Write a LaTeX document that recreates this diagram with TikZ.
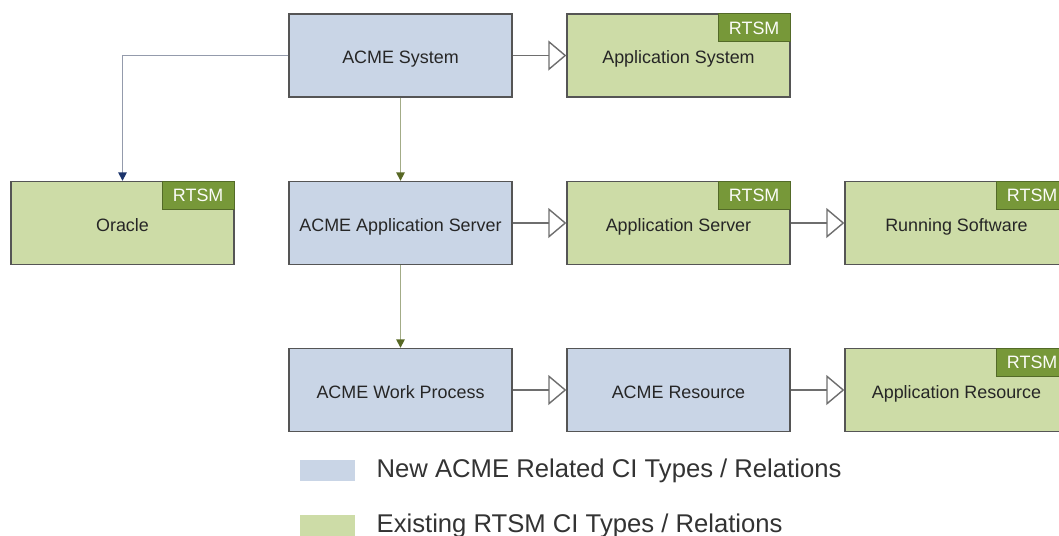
\documentclass[tikz,border=0pt]{standalone}
\usepackage{fontspec}
\setmainfont{Liberation Sans}
\usetikzlibrary{arrows.meta,positioning}
\definecolor{acmeblue}{RGB}{201,213,230}
\definecolor{rtsmgreen}{RGB}{205,220,167}
\definecolor{rtsmdark}{RGB}{119,152,57}
\definecolor{boxline}{RGB}{85,85,85}
\definecolor{linkblue}{RGB}{28,52,108}
\definecolor{linkgreen}{RGB}{88,104,36}
\newcommand{\cifont}{\fontsize{10.2}{12}\selectfont}
\newcommand{\keyfont}{\fontsize{14.6}{17}\selectfont}

\begin{document}
\begin{tikzpicture}[x=0.02cm,y=-0.02cm,
    ci/.style={draw=boxline, line width=0.8pt, minimum width=4.46cm, minimum height=1.66cm, inner sep=0pt, text height=9.5pt, text depth=0pt, font=\cifont, text=black!85},
    newci/.style={ci, fill=acmeblue},
    oldci/.style={ci, fill=rtsmgreen},
    badge/.style={draw=rtsmdark!70!black, line width=0.6pt, fill=rtsmdark, text=white!92!rtsmgreen, font=\cifont, minimum width=1.44cm, minimum height=0.56cm, inner sep=0pt, anchor=north east},
    realize/.style={draw=boxline!85, line width=0.8pt, -{Triangle[open, length=0.36cm, width=0.6cm, fill=white]}},
    uselink/.style={draw=black!35!linkblue!45, line width=0.9pt, -{Triangle[length=0.17cm, width=0.17cm, color=linkblue]}},
    haslink/.style={draw=linkgreen!55, line width=0.9pt, -{Triangle[length=0.17cm, width=0.17cm, color=linkgreen]}},
    swatch/.style={minimum width=1.1cm, minimum height=0.42cm, inner sep=0pt},
    keytext/.style={font=\keyfont, text=black!80, inner sep=0pt, anchor=west}]
  \useasboundingbox (0,0) rectangle (1059,535);
  \clip (0,0) rectangle (1059,535);
  % CI types
  \node[newci] (acmesys) at (400.5,55.5) {ACME System};
  \node[oldci] (appsys) at (678.5,55.5) {Application System};
  \node[oldci] (oracle) at (122.5,223) {Oracle};
  \node[newci] (acmeserver) at (400.5,223) {ACME Application Server};
  \node[oldci] (appserver) at (678.5,223) {Application Server};
  \node[oldci] (running) at (956.5,223) {Running Software};
  \node[newci] (workproc) at (400.5,390) {ACME Work Process};
  \node[newci] (acmeres) at (678.5,390) {ACME Resource};
  \node[oldci] (appres) at (956.5,390) {Application Resource};
  % RTSM badges
  \node[badge] (appsysb) at (appsys.north east) {RTSM};
  \node[badge] (oracleb) at (oracle.north east) {RTSM};
  \node[badge] (appserverb) at (appserver.north east) {RTSM};
  \node[badge] (runningb) at (running.north east) {RTSM};
  \node[badge] (appresb) at (appres.north east) {RTSM};
  % relations
  \draw[realize] (acmesys) -- (appsys);
  \draw[realize] (acmeserver) -- (appserver);
  \draw[realize] (appserver) -- (running);
  \draw[realize] (workproc) -- (acmeres);
  \draw[realize] (acmeres) -- (appres);
  \draw[uselink] (acmesys.west) -| (oracle.north);
  \draw[haslink] (acmesys) -- (acmeserver);
  \draw[haslink] (acmeserver) -- (workproc);
  % legend
  \node[swatch, fill=acmeblue] (newkey) at (327.5,470.5) {};
  \node[keytext, right=0.42cm of newkey] (newtext) {New ACME Related CI Types / Relations};
  \node[swatch, fill=rtsmgreen] (oldkey) at (327.5,525.5) {};
  \node[keytext, right=0.42cm of oldkey] (oldtext) {Existing RTSM CI Types / Relations};
\end{tikzpicture}
\end{document}
